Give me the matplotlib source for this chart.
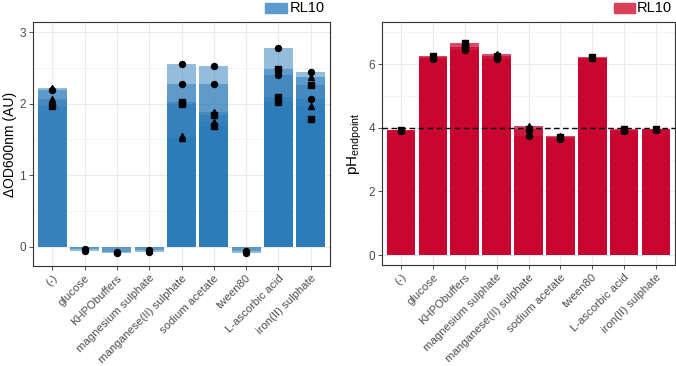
import matplotlib
matplotlib.use("Agg")
import matplotlib.pyplot as plt
from matplotlib.patches import Rectangle

plt.rcParams['font.family'] = ['Liberation Sans', 'DejaVu Sans']
plt.rcParams['mathtext.default'] = 'regular'

categories = ["(-)", "glucose", "KHPObuffers", "magnesium sulphate",
              "manganese(II) sulphate", "sodium acetate", "tween80",
              "L-ascorbic acid", "iron(II) sulphate"]

# replicate values (each replicate drawn as a translucent bar + a point)
od_values = [
    [2.19, 2.22, 2.07, 1.96],
    [-0.03, -0.06],
    [-0.07, -0.09],
    [-0.05, -0.08],
    [2.55, 2.27, 2.02, 1.99, 1.55, 1.52],
    [2.53, 2.27, 1.88, 1.84, 1.74, 1.69],
    [-0.06, -0.09],
    [2.77, 2.48, 2.40, 2.09, 2.04, 2.02],
    [2.44, 2.37, 2.26, 2.07, 1.97, 1.79],
]
od_shapes = [
    ["o", "^", "^", "s"],
    ["o", "o"],
    ["o", "o"],
    ["o", "o"],
    ["o", "o", "s", "s", "^", "^"],
    ["o", "o", "^", "s", "^", "s"],
    ["o", "o"],
    ["o", "s", "o", "s", "s", "^"],
    ["o", "^", "s", "o", "^", "s"],
]

ph_values = [
    [3.92, 3.90, 3.93],
    [6.26, 6.15, 6.22],
    [6.66, 6.55, 6.45],
    [6.33, 6.15, 6.25],
    [4.06, 3.75, 3.95],
    [3.65, 3.72, 3.75],
    [6.20, 6.22, 6.20],
    [3.90, 3.95, 3.93],
    [3.97, 3.95, 3.93],
]
ph_shapes = [
    ["s", "o", "^"],
    ["s", "o", "^"],
    ["s", "s", "o"],
    ["^", "o", "s"],
    ["^", "o", "s"],
    ["o", "s", "^"],
    ["o", "s", "^"],
    ["o", "s", "^"],
    ["s", "^", "o"],
]
ph_reference = 4
legend_label = "RL10"

fig = plt.figure(figsize=(6.76, 3.66), dpi=100)
W, H = 676, 366

def ax_rect(l, r, t, b):
    return [l / W, 1 - b / H, (r - l) / W, (b - t) / H]

ax1 = fig.add_axes(ax_rect(33, 330, 22, 266))
ax2 = fig.add_axes(ax_rect(382, 675, 22, 265))

text_gray = "#4d4d4d"

def style(ax, ylim, yticks, yminor):
    ax.set_xlim(-0.6, len(categories) - 0.4)
    ax.set_ylim(*ylim)
    ax.set_yticks(yticks)
    ax.set_yticks(yminor, minor=True)
    ax.set_xticks(range(len(categories)))
    ax.set_xticklabels(categories, rotation=45, ha="right",
                       rotation_mode="anchor", fontsize=8.2, color=text_gray)
    ax.tick_params(axis="y", labelsize=8.5, labelcolor=text_gray, color="#333333",
                   length=3, width=0.6, pad=2)
    ax.tick_params(axis="x", color="#333333", length=3, width=0.6, pad=2)
    ax.tick_params(axis="y", which="minor", length=0)
    ax.grid(True, which="major", color="#ebebeb", linewidth=0.8)
    ax.grid(True, which="minor", axis="y", color="#ebebeb", linewidth=0.4)
    ax.set_axisbelow(True)
    for s in ax.spines.values():
        s.set_color("#333333")
        s.set_linewidth(0.8)

def draw(ax, values, shapes, color, alpha):
    for i, (vals, shs) in enumerate(zip(values, shapes)):
        for v in vals:
            ax.bar(i, v, width=0.9, color=color, alpha=alpha, linewidth=0, zorder=2)
        for v, sh in zip(vals, shs):
            ax.plot(i, v, marker=sh, color="black", markersize=4.3,
                    linestyle="none", zorder=4)

draw(ax1, od_values, od_shapes, "#2b7bba", 0.5)
style(ax1, (-0.27, 3.14), [0, 1, 2, 3], [0.5, 1.5, 2.5])
ax1.set_ylabel("ΔOD600nm (AU)", fontsize=10, va="center")
ax1.yaxis.set_label_coords(-0.077, 0.5)

draw(ax2, ph_values, ph_shapes, "#c8002a", 0.7)
style(ax2, (-0.31, 7.32), [0, 2, 4, 6], [1, 3, 5, 7])
ax2.axhline(ph_reference, color="black", linestyle=(0, (4, 2.5)), linewidth=1.0, zorder=5)
ax2.set_ylabel("pH$_{endpoint}$", fontsize=11, va="center")
ax2.yaxis.set_label_coords(-0.092, 0.5)

# legends (keys above each panel)
def legend(x0, x1, tx, color):
    fig.patches.append(Rectangle((x0 / W, 1 - 13 / H), (x1 - x0) / W, 10 / H,
                                 transform=fig.transFigure, color=color))
    fig.text(tx / W, 1 - 8.5 / H, legend_label, fontsize=10.5, va="center", ha="left",
             color="black")

legend(265, 287, 290, "#5b9bd0")
legend(614, 635, 637, "#d9405a")

fig.savefig("out.png", dpi=100)
